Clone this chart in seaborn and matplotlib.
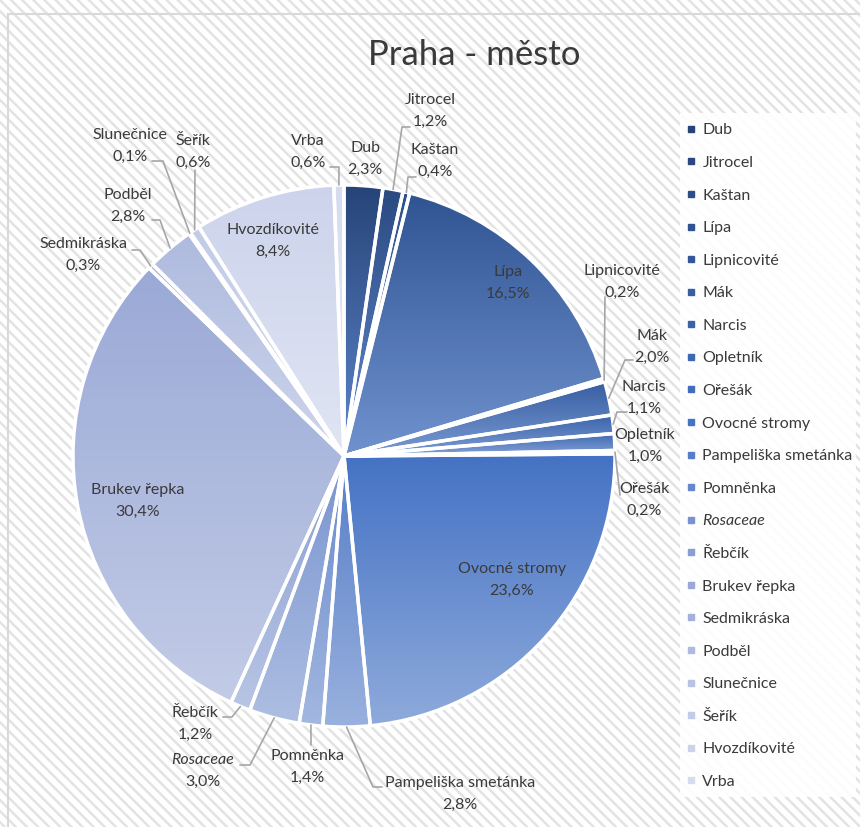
"""
Praha - město: podíl pylových taxonů (koláčový graf)
"""

import colorsys
import numpy as np
import matplotlib
matplotlib.use('Agg')
import matplotlib.pyplot as plt
import seaborn as sns
from matplotlib.colors import LinearSegmentedColormap, to_rgb
from matplotlib.patches import Rectangle
from matplotlib.lines import Line2D

sns.set_theme(style='white')
plt.rcParams['font.family'] = ['Lato', 'DejaVu Sans']
plt.rcParams['hatch.linewidth'] = 1.8

# data
taxa = ['Dub', 'Jitrocel', 'Kaštan', 'Lípa', 'Lipnicovité', 'Mák', 'Narcis',
        'Opletník', 'Ořešák', 'Ovocné stromy', 'Pampeliška smetánka', 'Pomněnka',
        'Rosaceae', 'Řebčík', 'Brukev řepka', 'Sedmikráska', 'Podběl',
        'Slunečnice', 'Šeřík', 'Hvozdíkovité', 'Vrba']
podil = [2.3, 1.2, 0.4, 16.5, 0.2, 2.0, 1.1,
         1.0, 0.2, 23.6, 2.8, 1.4,
         3.0, 1.2, 30.4, 0.3, 2.8,
         0.1, 0.6, 8.4, 0.6]
italic_taxa = ['Rosaceae']

W, H = 860, 827
CX, CY, R = 344, 456, 271          # střed a poloměr v pixelech (y shora)
TXT = '#3a3a3a'
LEAD = '#a6a6a6'
FS = 11.5

# rozložení popisků: střed textu (x, y shora), zlom a konec vodicí čáry
layout = {
    'Dub': ((365, 159), None),
    'Jitrocel': ((430, 111), [(402, 127), (410, 127)]),
    'Kaštan': ((435, 161), [(408, 177), (416, 177)]),
    'Lípa': ((508, 283), None),
    'Lipnicovité': ((622, 282), [(605, 297)]),
    'Mák': ((652, 347), [(625, 360), (633, 360)]),
    'Narcis': ((644, 398), [(617, 412), (627, 412)]),
    'Opletník': ((645, 446), None),
    'Ořešák': ((644, 500), [(620, 495)]),
    'Ovocné stromy': ((512, 580), None),
    'Pampeliška smetánka': ((460, 794), [(373, 787), (382, 787)]),
    'Pomněnka': ((307, 767), [(311, 745)]),
    'Rosaceae': ((203, 771), [(250, 765), (240, 765)]),
    'Řebčík': ((195, 724), [(232, 717), (223, 717)]),
    'Brukev řepka': ((138, 501), None),
    'Sedmikráska': ((83, 255), [(140, 250), (132, 250)]),
    'Podběl': ((128, 206), [(160, 220), (152, 220)]),
    'Slunečnice': ((130, 146), [(163, 161), (152, 161)]),
    'Šeřík': ((193, 152), [(195, 170)]),
    'Hvozdíkovité': ((273, 241), None),
    'Vrba': ((308, 152), [(339, 167), (330, 167)]),
}

# monochromatická modrá paleta (od tmavé po světlou)
colors = (sns.blend_palette(['#264478', '#4472c4'], 10)
          + sns.blend_palette(['#4472c4', '#9aa9d6'], 6)[1:]
          + sns.blend_palette(['#9aa9d6', '#d6dcf0'], 7)[1:])


def lighten(c, f):
    # zesvětlení se zachováním sytosti
    h, l, s = colorsys.rgb_to_hls(*to_rgb(c))
    return colorsys.hls_to_rgb(h, l + (1 - l) * f, s)


fig = plt.figure(figsize=(W / 100, H / 100), dpi=100)
ax = fig.add_axes([0, 0, 1, 1])

# pozadí s šrafováním a rámeček
bg = Rectangle((0, 0), W, H, facecolor='white', edgecolor='#e3e3e3',
               hatch='\\\\\\', linewidth=0, zorder=0)
ax.add_patch(bg)
ax.add_patch(Rectangle((8, -10), W + 20, H - 14 + 10, facecolor='none',
                       edgecolor='#d9d9d9', linewidth=1.5, zorder=0.2))

wedges, _ = ax.pie(podil, startangle=90, counterclock=False,
                   center=(CX, H - CY), radius=R, colors=colors,
                   wedgeprops=dict(edgecolor='white', linewidth=2.5))

# gradientní výplň jednotlivých výsečí
grad = np.linspace(0, 1, 256).reshape(-1, 1)
for w, c in zip(wedges, colors):
    bb = w.get_path().get_extents()
    cmap = LinearSegmentedColormap.from_list('g', [c, lighten(c, 0.4)])
    im = ax.imshow(grad, cmap=cmap, extent=[bb.x0, bb.x1, bb.y0, bb.y1],
                   origin='upper', aspect='auto', zorder=1.5,
                   interpolation='bilinear')
    im.set_clip_path(w)
    w.set_facecolor('none')
    w.set_zorder(2)

# popisky a vodicí čáry
for w, name, v in zip(wedges, taxa, podil):
    (tx, ty), lead = layout[name]
    style = 'italic' if name in italic_taxa else 'normal'
    ax.text(tx, H - ty + 11, name, ha='center', va='center', fontsize=FS,
            color=TXT, style=style, zorder=4)
    ax.text(tx, H - ty - 11, f'{v:.1f}'.replace('.', ',') + '%', ha='center',
            va='center', fontsize=FS, color=TXT, zorder=4)
    if lead:
        th = np.deg2rad((w.theta1 + w.theta2) / 2)
        pts = [(CX + R * np.cos(th), H - CY + R * np.sin(th))]
        pts += [(x, H - y) for x, y in lead]
        xs, ys = zip(*pts)
        ax.plot(xs, ys, color=LEAD, lw=1.2, zorder=3)

ax.text(474, H - 55, 'Praha - město', ha='center', va='center', fontsize=25,
        color=TXT, zorder=4)

# legenda
ax.add_patch(Rectangle((680, H - 797), 176, 684, facecolor='white',
                       edgecolor='none', alpha=0.9, zorder=3))
handles = [Line2D([], [], marker='s', linestyle='', markersize=5, color=c)
           for c in colors]
leg = ax.legend(handles, taxa, loc='upper left', frameon=False,
                bbox_to_anchor=(680 / W, 1 - 120 / H), fontsize=FS,
                labelspacing=1.152, handletextpad=0.2, handlelength=1.0,
                borderaxespad=0, borderpad=0.2)
leg.set_zorder(5)
for t in leg.get_texts():
    t.set_color(TXT)
    if t.get_text() in italic_taxa:
        t.set_style('italic')

ax.set_xlim(0, W)
ax.set_ylim(0, H)
ax.axis('off')

plt.savefig('out.png', dpi=100)
plt.close()
